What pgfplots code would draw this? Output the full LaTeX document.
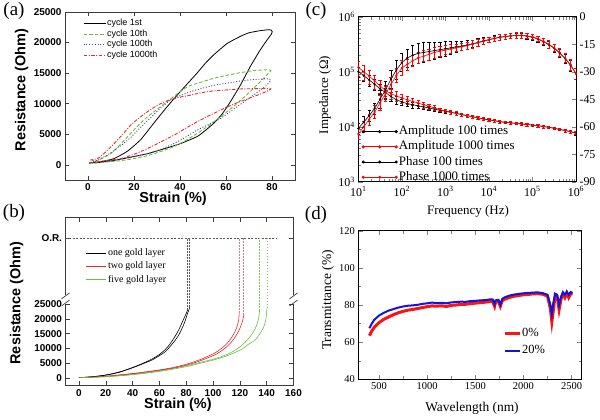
\documentclass[border=0pt]{standalone}
\usepackage{fontspec}
\setmainfont{Liberation Serif}
\newfontfamily\arial{Liberation Sans}
\usepackage{pgfplots}
\pgfplotsset{compat=1.18}
\usepackage{pgfplotstable}
\definecolor{cgreen}{RGB}{110,185,60}
\definecolor{cblue}{RGB}{70,70,150}
\definecolor{cred}{RGB}{225,45,45}
\definecolor{bred}{RGB}{230,40,40}
\definecolor{bgreen}{RGB}{105,190,65}
\definecolor{lred}{RGB}{235,120,120}
\definecolor{lgreen}{RGB}{125,200,90}
\definecolor{lgray}{RGB}{90,90,90}
\definecolor{axgray}{RGB}{60,60,60}
\definecolor{dblue}{RGB}{20,20,210}
\definecolor{dred}{RGB}{250,20,20}

\pgfplotstableread{
f a1 a1e a2 a2e p1 p1e p2 p2e
10 100000 0.22 120200 0.30 -61 3 -64 3
13.34 85100 0.22 100000 0.30 -57.5 3 -60 3
17.78 70800 0.22 83200 0.30 -54 3 -56 3
23.71 58900 0.22 67600 0.28 -50 3 -52 3.5
31.62 49000 0.20 55000 0.25 -45 5 -47 4
42.17 41700 0.20 45700 0.22 -40 5 -42 4
56.23 35500 0.18 39800 0.20 -34 5 -37 4
74.99 30900 0.16 36300 0.20 -29 5 -32 4
100 28200 0.14 33100 0.18 -25 5 -28 4
133.4 26300 0.12 30900 0.16 -22.5 5 -26 3
177.8 25100 0.12 28800 0.14 -21 5.5 -24 3
237.1 24000 0.10 26900 0.12 -20 5.5 -22.5 3
316.2 22900 0.10 25100 0.12 -19.5 5.5 -21.5 3
421.7 21900 0.08 23400 0.10 -19 5 -20.5 3
562.3 20900 0.08 21900 0.10 -18.5 4.5 -19.5 3
749.9 19950 0.08 20400 0.08 -18 4.3 -18.8 2.5
1000 19050 0.07 19500 0.08 -17.5 4 -18.2 2.5
1334 18200 0.07 18400 0.07 -17 3.5 -17.6 2.5
1778 17400 0.06 17500 0.07 -16.5 3 -17 2
2371 16600 0.06 16700 0.06 -16 2.5 -16.4 2
3162 15850 0.06 15900 0.06 -15.5 2.5 -15.8 2
4217 15100 0.05 15200 0.06 -14.8 2 -15 2
5623 14450 0.05 14500 0.05 -14 2 -14.2 1.8
7499 13800 0.05 13900 0.05 -13.2 1.8 -13.4 1.8
10000 13200 0.05 13300 0.05 -12.5 1.5 -12.6 1.5
13340 12900 0.05 12900 0.05 -11.8 1.5 -11.9 1.5
17780 12300 0.05 12400 0.05 -11.2 1.5 -11.3 1.5
23710 12000 0.05 12050 0.05 -10.8 1.5 -10.8 1.5
31620 11750 0.05 11800 0.05 -10.5 1.5 -10.4 1.5
42170 11500 0.05 11500 0.05 -10.3 1.5 -10.2 1.5
56230 11200 0.05 11250 0.05 -10.3 1.5 -10.1 1.5
74990 10950 0.05 10950 0.05 -10.6 1.5 -10.4 1.5
100000 10700 0.05 10700 0.05 -11.2 1.5 -11 1.5
133400 10450 0.05 10450 0.05 -12.2 1.5 -12 1.5
177800 10000 0.05 10050 0.05 -13.6 1.8 -13.4 1.8
237100 9770 0.05 9800 0.05 -15.2 2 -15 2
316200 9330 0.05 9350 0.05 -17.2 2 -17 2
421700 8910 0.05 8950 0.05 -19.8 2.2 -19.6 2.2
562300 8510 0.06 8550 0.06 -22.8 2.5 -22.6 2.5
749900 8130 0.06 8150 0.06 -26.5 3 -26.2 3
1000000 7590 0.06 7650 0.06 -31 3 -31 3
}\tabc

\pgfplotstableread{
w t
400 63.5
425 66
450 68
500 70.5
550 72.3
600 73.6
650 74.8
700 75.8
750 76.6
800 77.2
850 77.6
900 78.1
950 78.6
1000 79.1
1050 79.5
1100 79.4
1150 79.6
1200 79.2
1250 79.8
1300 80.0
1350 80.3
1400 80.4
1450 80.8
1500 81.0
1550 81.3
1600 81.5
1650 81.9
1680 82.0
1700 79.3
1710 81.5
1740 81.8
1760 79.3
1780 82.3
1800 83.0
1850 84.0
1900 84.7
1950 85.1
2000 85.5
2050 85.7
2100 86.0
2150 86.1
2200 85.8
2250 84.8
2280 78
2295 71
2310 77
2330 85.5
2350 84.5
2370 77.5
2390 83
2410 86
2430 84
2450 86.5
2470 84
2490 86
2510 86
}\tabdzero

\pgfplotstableread{
w t
400 67.5
425 70
450 72
500 74.3
550 75.8
600 77
650 77.8
700 78.6
750 79.2
800 79.6
850 79.8
900 80.1
950 80.6
1000 80.9
1050 81.3
1100 81.0
1150 81.2
1200 80.9
1250 81.4
1300 81.6
1350 81.8
1400 81.7
1450 82.1
1500 82.2
1550 82.5
1600 82.6
1650 83.0
1680 83.0
1700 80.5
1710 82.5
1740 82.8
1760 80.2
1780 83.3
1800 84.0
1850 85.0
1900 85.6
1950 86.0
2000 86.3
2050 86.5
2100 86.7
2150 86.8
2200 86.4
2250 85.5
2280 80
2295 75
2310 81
2330 86
2350 85.5
2370 80
2390 84.5
2410 86.8
2430 85.5
2450 87.2
2470 85.5
2490 87
2510 86.5
}\tabdtwenty

\begin{document}
\begin{tikzpicture}
\path[use as bounding box] (0,0) rectangle (600bp,420bp);

% ---------------- (a) ----------------
\begin{axis}[
  at={(65bp,240bp)}, anchor=south west,
  width=230bp, height=168bp, scale only axis,
  xmin=-10, xmax=90, ymin=-2500, ymax=25000,
  xtick={0,20,40,60,80}, ytick={0,5000,10000,15000,20000,25000},
  scaled y ticks=false,
  /pgf/number format/assume math mode=true,
  /pgf/number format/1000 sep={},
  tick label style={font=\arial\bfseries\fontsize{10}{12}\selectfont},
  label style={font=\arial\bfseries\fontsize{14.5}{16}\selectfont},
  axis line style={axgray, line width=0.9bp},
  every tick/.style={axgray},
  xlabel={Strain (\%)}, ylabel={Resistance (Ohm)},
  xlabel style={at={(axis description cs:0.47,-0.113)}, anchor=center},
  ylabel style={at={(axis description cs:-0.188,0.536)}, anchor=center},
  legend style={draw=none, fill=none, at={(axis description cs:0.065,0.975)}, anchor=north west,
    row sep=0bp,
    nodes={font=\arial\fontsize{9}{10}\selectfont, inner sep=1bp, text height=6.6bp, text depth=1.9bp}},
  legend image code/.code={\draw[#1] (0bp,0bp) -- (22bp,0bp);},
  legend cell align=left,
]
\addplot[black, line width=0.8bp, smooth, tension=0.3] coordinates {
(0.5,300) (5,380) (11.3,700) (18,1200) (25.8,1800) (33,2600) (40.2,3450) (47.4,4600) (51,5600) (54.7,6800) (58.3,8300) (61.9,10300) (66.2,13000) (70.6,16100) (74.9,18800) (78,20500) (79.6,21300) (80.1,21800) (79.6,22050) (78.5,22100) (75,21950) (70,21600) (66.2,21000) (60.5,19850) (54.7,18000) (51,16600) (47.4,15000) (43.8,13500) (40.2,12000) (34.4,9500) (28.6,6800) (22.9,4100) (17.1,2200) (11.3,1000) (5.5,500) (0.5,300)};
\addlegendentry{\arial cycle 1st}
\addplot[cgreen, line width=0.9bp, dash pattern=on 3.5bp off 2bp, smooth, tension=0.3] coordinates {
(0.5,250) (2.6,270) (8,450) (14.2,660) (20,1000) (25.8,1480) (31.5,2150) (37.3,2960) (42.4,3950) (47.4,5100) (52.5,6400) (57.6,7830) (64.8,10030) (72,12500) (77,14400) (79.5,15400) (78,15550) (72,15400) (66.2,15070) (60.5,14650) (54.7,14150) (49,13500) (43.2,12760) (35.2,10580) (30.5,9200) (25.8,7830) (22,6500) (18.5,5100) (14,3300) (9.8,1800) (6,1000) (3,500) (0.5,250)};
\addlegendentry{\arial cycle 10th}
\addplot[cblue, line width=0.9bp, dash pattern=on 1bp off 1.8bp, smooth, tension=0.3] coordinates {
(0.5,250) (2.6,300) (8,550) (14.2,900) (20,1300) (25.8,1800) (31.5,2500) (37.3,3450) (42.4,4500) (47.4,5650) (52.5,6600) (57.6,7570) (64.8,9500) (72,11400) (77,12800) (79.5,13800) (78,14050) (72,13950) (66.2,13700) (60.5,13350) (54.7,13000) (49.5,12500) (44.6,11950) (40,11300) (35.2,10400) (30.5,8900) (25.8,7200) (22,5800) (18.5,4440) (14.9,3300) (11.3,2300) (7,1300) (3,600) (0.5,250)};
\addlegendentry{\arial cycle 100th}
\addplot[cred, line width=0.9bp, dash pattern=on 3.5bp off 1.5bp on 1bp off 1.5bp, smooth, tension=0.3] coordinates {
(1,800) (2.5,700) (4,450) (6,600) (10,800) (14.2,990) (20,1700) (25.8,2630) (31.5,3700) (37.3,4830) (42.4,5950) (47.4,7020) (52.5,8000) (57.6,8940) (64.8,10140) (72,11150) (77,11900) (79.5,12400) (77,12480) (72,12450) (66.2,12400) (60.5,12250) (54.7,12100) (49.5,11800) (44.6,11400) (40,11050) (35.2,10580) (30.5,9800) (25.8,8660) (22,7600) (18.5,6460) (14.9,4900) (11.3,3450) (8,2200) (5,1200) (2.5,850) (1,800)};
\addlegendentry{\arial cycle 1000th}
\end{axis}

% ---------------- (b) ----------------
\begin{axis}[
  at={(65.5bp,34.3bp)}, anchor=south west,
  width=228bp, height=168bp, scale only axis,
  xmin=-10, xmax=160, ymin=-2500, ymax=54000,
  xtick={0,20,40,60,80,100,120,140,160},
  ytick={0,5000,10000,15000,20000,25000,47100},
  yticklabels={0,5000,10000,15000,20000,25000,O.R.},
  scaled y ticks=false,
  /pgf/number format/assume math mode=true,
  /pgf/number format/1000 sep={},
  tick label style={font=\arial\bfseries\fontsize{10}{12}\selectfont},
  label style={font=\arial\bfseries\fontsize{14.5}{16}\selectfont},
  axis line style={axgray, line width=0.9bp},
  every tick/.style={axgray},
  clip=false,
  xlabel={Strain (\%)}, ylabel={Resistance (Ohm)},
  xlabel style={at={(axis description cs:0.493,-0.115)}, anchor=center},
  ylabel style={at={(axis description cs:-0.214,0.492)}, anchor=center},
  legend style={draw=none, fill=none, at={(axis description cs:0.072,0.84)}, anchor=north west,
    row sep=0bp,
    nodes={font=\fontsize{10}{11}\selectfont, inner sep=2bp, text height=7bp, text depth=2.2bp}},
  legend image code/.code={\draw[#1, line width=1.3bp] (0bp,0bp) -- (15bp,0bp); \path (15bp,0bp) -- (20bp,0bp);},
  legend cell align=left,
]
\addplot[lgray, line width=0.8bp, dash pattern=on 2bp off 1.5bp, forget plot] coordinates {(-10,47100) (147,47100)};
\addplot[lgray, line width=0.8bp, dash pattern=on 1.8bp off 1.2bp, forget plot] coordinates {(81,23000) (81,47100)};
\addplot[lgray, line width=0.8bp, dash pattern=on 1.8bp off 1.2bp, forget plot] coordinates {(82.7,24000) (82.7,47100)};
\addplot[lred, line width=0.8bp, dash pattern=on 1.8bp off 1.2bp, forget plot] coordinates {(119.5,21900) (119.5,47100)};
\addplot[lred, line width=0.8bp, dash pattern=on 1.8bp off 1.2bp, forget plot] coordinates {(123,21300) (123,47100)};
\addplot[lgreen, line width=0.8bp, dash pattern=on 1.8bp off 1.2bp, forget plot] coordinates {(134.7,22700) (134.7,47100)};
\addplot[lgreen, line width=0.8bp, dash pattern=on 1.8bp off 1.2bp, forget plot] coordinates {(140.2,23500) (140.2,47100)};
\addplot[black, line width=0.6bp, smooth] coordinates {
(0,200) (10,520) (20,1100) (30,2100) (40,3600) (50,5500) (55,6600) (60,8000) (64.5,9700) (68,11600) (71,13600) (74,15900) (76.5,18300) (78.5,20300) (80.2,22000) (81,23000)};
\addlegendentry{one gold layer}
\addplot[bred, line width=0.6bp, smooth] coordinates {
(0,200) (20,700) (40,1600) (60,2800) (70,3600) (80,4700) (90,6200) (100,8200) (105,9600) (110,11500) (114,13800) (117,16300) (119,19300) (119.5,21900)};
\addlegendentry{two gold layer}
\addplot[bgreen, line width=0.6bp, smooth] coordinates {
(0,200) (20,550) (40,1300) (60,2500) (80,4200) (90,5300) (100,6400) (110,7900) (117,9600) (122,11300) (126.6,13400) (130,15500) (132.5,17800) (134,20300) (134.7,22700)};
\addlegendentry{five gold layer}
\addplot[black, line width=0.6bp, smooth, forget plot] coordinates {
(0,200) (10,500) (20,1050) (30,2000) (42.2,3900) (50,5300) (54.6,6150) (60,7600) (64.5,8950) (68,10700) (72,12900) (75,15000) (76.9,16800) (79,19000) (80.6,21300) (82,23000) (82.7,24000)};
\addplot[bred, line width=0.6bp, smooth, forget plot] coordinates {
(0,200) (20,650) (40,1500) (60,2700) (70,3400) (80,4400) (90,5800) (100,7600) (105,8800) (110,10500) (115,12900) (119,15800) (121.5,18500) (123,21300)};
\addplot[bgreen, line width=0.6bp, smooth, forget plot] coordinates {
(0,200) (20,520) (40,1200) (60,2300) (80,3900) (90,5000) (100,6100) (110,7500) (116,8600) (121.6,9800) (126,11300) (131.6,13000) (135,15000) (137.5,17000) (139.3,19500) (140.2,23500)};
% axis break marks
\draw[white, line width=3bp] (axis cs:-10,25000) -- (axis cs:-10,28000);
\draw[white, line width=3bp] (axis cs:160,25000) -- (axis cs:160,28000);
\draw[axgray, line width=0.7bp] (axis cs:-13,24300) -- (axis cs:-7,26300);
\draw[axgray, line width=0.7bp] (axis cs:-13,26700) -- (axis cs:-7,28700);
\draw[axgray, line width=0.7bp] (axis cs:157,24300) -- (axis cs:163,26300);
\draw[axgray, line width=0.7bp] (axis cs:157,26700) -- (axis cs:163,28700);
\end{axis}

% ---------------- (c) ----------------
\begin{axis}[
  at={(358.3bp,238.3bp)}, anchor=south west,
  width=217.7bp, height=165bp, scale only axis,
  xmode=log, ymode=log,
  xmin=10, xmax=1000000, ymin=1000, ymax=1000000,
  xtick={10,100,1000,10000,100000,1000000},
  xticklabels={10\textsuperscript{1},10\textsuperscript{2},10\textsuperscript{3},10\textsuperscript{4},10\textsuperscript{5},10\textsuperscript{6}},
  ytick={1000,10000,100000,1000000},
  yticklabels={10\textsuperscript{3},10\textsuperscript{4},10\textsuperscript{5},10\textsuperscript{6}},
  ytick pos=left,
  tick label style={font=\fontsize{12}{14}\selectfont},
  xticklabel style={yshift=-1.5bp},
  label style={font=\fontsize{13}{15}\selectfont},
  axis line style={line width=0.8bp},
  xlabel={Frequency (Hz)}, ylabel={Impedance (Ω)},
  xlabel style={at={(axis description cs:0.504,-0.178)}, anchor=center},
  ylabel style={at={(axis description cs:-0.153,0.525)}, anchor=center},
]
\addplot[black, line width=0.6bp, mark=*, mark size=0.8bp,
  error bars/.cd, y dir=both, y explicit relative,
  error bar style={line width=0.5bp}, error mark options={rotate=90, mark size=1.6bp, line width=0.5bp}]
  table[x=f, y=a1, y error=a1e] {\tabc};
\addplot[red, line width=0.6bp, mark=*, mark size=0.8bp,
  error bars/.cd, y dir=both, y explicit relative,
  error bar style={line width=0.5bp}, error mark options={rotate=90, mark size=1.6bp, line width=0.5bp}]
  table[x=f, y=a2, y error=a2e] {\tabc};
\end{axis}
\begin{axis}[
  at={(358.3bp,238.3bp)}, anchor=south west,
  width=217.7bp, height=165bp, scale only axis,
  xmode=log, xmin=10, xmax=1000000,
  ymin=-90, ymax=0, ytick={-90,-75,-60,-45,-30,-15,0},
  axis x line=none, axis y line*=right,
  /pgf/number format/assume math mode=true,
  tick label style={font=\fontsize{12}{14}\selectfont},
  axis line style={line width=0.8bp},
  legend style={draw=none, fill=none, at={(axis description cs:0.003,0.362)}, anchor=north west,
    row sep=0.2bp,
    nodes={font=\fontsize{13}{14}\selectfont, inner sep=1.5bp, text height=9bp, text depth=3bp}},
  legend image code/.code={\draw[#1] plot coordinates {(0bp,0bp) (16.5bp,0bp) (33bp,0bp)};},
  legend cell align=left,
]
\addlegendimage{black, line width=0.8bp, mark=*, mark size=1.1bp}
\addlegendentry{Amplitude 100 times}
\addlegendimage{red, line width=0.8bp, mark=*, mark size=1.1bp}
\addlegendentry{Amplitude 1000 times}
\addlegendimage{black, line width=0.8bp, mark=*, mark size=1.1bp}
\addlegendentry{Phase 100 times}
\addlegendimage{red, line width=0.8bp, mark=*, mark size=1.1bp}
\addlegendentry{Phase 1000 times}
\addplot[black, line width=0.6bp, mark=*, mark size=0.8bp, forget plot,
  error bars/.cd, y dir=both, y explicit,
  error bar style={line width=0.5bp}, error mark options={rotate=90, mark size=1.6bp, line width=0.5bp}]
  table[x=f, y=p1, y error=p1e] {\tabc};
\addplot[red, line width=0.6bp, mark=*, mark size=0.8bp, forget plot,
  error bars/.cd, y dir=both, y explicit,
  error bar style={line width=0.5bp}, error mark options={rotate=90, mark size=1.6bp, line width=0.5bp}]
  table[x=f, y=p2, y error=p2e] {\tabc};
\end{axis}

% ---------------- (d) ----------------
\begin{axis}[
  at={(358.3bp,40.7bp)}, anchor=south west,
  width=223.4bp, height=148.6bp, scale only axis,
  xmin=285, xmax=2605, ymin=40, ymax=120,
  xtick={500,1000,1500,2000,2500}, ytick={40,60,80,100,120},
  minor x tick num=1, minor y tick num=1,
  /pgf/number format/assume math mode=true,
  /pgf/number format/1000 sep={},
  tick label style={font=\fontsize{10.5}{12}\selectfont},
  label style={font=\fontsize{13.5}{15}\selectfont},
  axis line style={line width=0.8bp},
  xlabel={Wavelength (nm)}, ylabel={Transmittance (\%)},
  xlabel style={at={(axis description cs:0.509,-0.193)}, anchor=center},
  ylabel style={at={(axis description cs:-0.136,0.534)}, anchor=center},
  legend style={draw=none, fill=none, at={(axis description cs:0.634,0.37)}, anchor=north west,
    row sep=4.7bp,
    nodes={font=\fontsize{12.5}{13}\selectfont, inner sep=1bp, text height=8.5bp, text depth=2.5bp}},
  legend image code/.code={\draw[#1] (0bp,0bp) -- (15bp,0bp);},
  legend cell align=left,
]
\addplot[dred, line width=3bp] table[x=w, y=t] {\tabdzero};
\addlegendentry{0\%}
\addplot[dblue, line width=2bp] table[x=w, y=t] {\tabdtwenty};
\addlegendentry{20\%}
\end{axis}

% panel letters
\node[font=\fontsize{19}{20}\selectfont] at (14bp,409bp) {(a)};
\node[font=\fontsize{19}{20}\selectfont] at (14bp,207bp) {(b)};
\node[font=\fontsize{19}{20}\selectfont] at (316bp,409bp) {(c)};
\node[font=\fontsize{19}{20}\selectfont] at (316bp,205bp) {(d)};
\end{tikzpicture}
\end{document}
